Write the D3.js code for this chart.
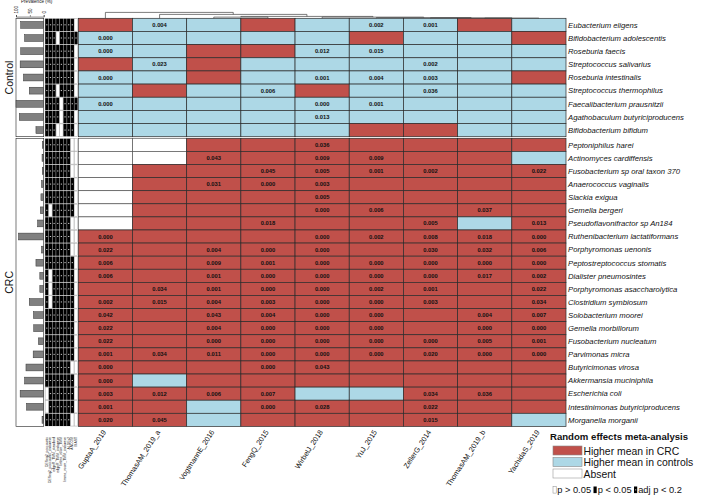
<!DOCTYPE html>
<html>
<head>
<meta charset="utf-8">
<script src="https://cdn.jsdelivr.net/npm/d3@7/dist/d3.min.js"></script>
<style>
body { margin: 0; background: #fff; }
svg { display: block; font-family: "Liberation Sans", Arial, sans-serif; }
</style>
</head>
<body>
<div id="chart-area"></div>
<script>
// studies (columns)
var studies = ["GuptaA_2019", "ThomasAM_2019_a", "VogtmannE_2016", "FengQ_2015", "WirbelJ_2018",
  "YuJ_2015", "ZellerG_2014", "ThomasAM_2019_b", "YachidaS_2019"]

var methods = ["DESeq2_poscounts", "DESeq2_poscounts_zinbwave", "edgeR_TMM_standard", "edgeR_TMM_zinbwave",
  "limma_voom_TMM", "limma_voom_TMM_zinbwave", "ALDEx2", "ANCOM", "MAST"]

var controlTaxa = ["Eubacterium eligens", "Bifidobacterium adolescentis", "Roseburia faecis", "Streptococcus salivarius",
  "Roseburia intestinalis", "Streptococcus thermophilus", "Faecalibacterium prausnitzii",
  "Agathobaculum butyriciproducens", "Bifidobacterium bifidum"]

var crcTaxa = ["Peptoniphilus harei", "Actinomyces cardiffensis", "Fusobacterium sp oral taxon 370",
  "Anaerococcus vaginalis", "Slackia exigua", "Gemella bergeri", "Pseudoflavonifractor sp An184",
  "Ruthenibacterium lactatiformans", "Porphyromonas uenonis", "Peptostreptococcus stomatis",
  "Dialister pneumosintes", "Porphyromonas asaccharolytica", "Clostridium symbiosum", "Solobacterium moorei",
  "Gemella morbillorum", "Fusobacterium nucleatum", "Parvimonas micra", "Butyricimonas virosa",
  "Akkermansia muciniphila", "Escherichia coli", "Intestinimonas butyriciproducens", "Morganella morganii"]

// R = higher mean in CRC, B = higher mean in controls, A = absent
var controlDir = ["RBBRBBBRB", "BBBBBRBBR", "BBRRBBBBB", "RBRBBBBBB", "BBRBBBBBR",
  "BRBBRBBBB", "BBBBBBBBB", "BBBBBBBBB", "BBBBBRRBB"]

var crcDir = ["AARRRRRRR", "AARRRRRRB", "ARRRRRRRR", "ARRRRRRRR", "ARRRRRRRR", "ARRRRRRRR", "ARRRRRRBR",
  "RRRRRRRRR", "RRRRRRRRR", "RRRRRRRRR", "RRRRRRRRR", "RRRRRRRRR", "RRRRRRRRR", "RRRRRRRRR",
  "RRRRRRRRR", "RRRRRRRRR", "RRRRRRRRR", "RRRRRRRRR", "RBRRRRRRR", "RRRRBBRRR", "RRBRRRRRR", "RRBRRRRRB"]

// p-values printed in cells
var controlP = [
  ["", "0.004", "", "", "", "0.002", "0.001", "", ""],
  ["0.000", "", "", "", "", "", "", "", ""],
  ["0.000", "", "", "", "0.012", "0.015", "", "", ""],
  ["", "0.023", "", "", "", "", "0.002", "", ""],
  ["0.000", "", "", "", "0.001", "0.004", "0.003", "", ""],
  ["", "", "", "0.006", "", "", "0.036", "", ""],
  ["0.000", "", "", "", "0.000", "0.001", "", "", ""],
  ["", "", "", "", "0.013", "", "", "", ""],
  ["", "", "", "", "", "", "", "", ""]
]

var crcP = [
  ["", "", "", "", "0.036", "", "", "", ""],
  ["", "", "0.043", "", "0.009", "0.009", "", "", ""],
  ["", "", "", "0.045", "0.005", "0.001", "0.002", "", "0.022"],
  ["", "", "0.031", "0.000", "0.003", "", "", "", ""],
  ["", "", "", "", "0.005", "", "", "", ""],
  ["", "", "", "", "0.000", "0.006", "", "0.037", ""],
  ["", "", "", "0.018", "", "", "0.005", "", "0.013"],
  ["0.000", "", "", "", "0.000", "0.002", "0.008", "0.018", "0.000"],
  ["0.022", "", "0.004", "0.000", "0.000", "", "0.030", "0.032", "0.006"],
  ["0.006", "", "0.009", "0.001", "0.000", "0.000", "0.000", "0.000", "0.000"],
  ["0.006", "", "0.001", "0.000", "0.000", "0.000", "0.000", "0.017", "0.002"],
  ["", "0.034", "0.001", "0.000", "0.000", "0.002", "0.001", "", "0.022"],
  ["0.002", "0.015", "0.004", "0.003", "0.000", "0.000", "0.003", "", "0.034"],
  ["0.042", "", "0.043", "0.004", "0.000", "0.000", "", "0.004", "0.007"],
  ["0.022", "", "0.004", "0.000", "0.000", "0.000", "", "0.000", "0.000"],
  ["0.022", "", "0.000", "0.000", "0.000", "0.000", "0.000", "0.005", "0.001"],
  ["0.001", "0.034", "0.011", "0.000", "0.000", "0.000", "0.020", "0.000", "0.000"],
  ["0.000", "", "", "0.000", "0.043", "", "", "", ""],
  ["0.000", "", "", "", "", "", "", "", ""],
  ["0.003", "0.012", "0.006", "0.007", "", "", "0.034", "0.036", ""],
  ["0.001", "", "", "0.000", "0.028", "", "0.022", "", ""],
  ["0.020", "0.045", "", "", "", "", "0.015", "", ""]
]

// prevalence (%)
var controlPrev = [83, 69, 83, 85, 73, 52, 100, 88, 28]
var crcPrev = [5, 6, 5, 8, 10, 12, 22, 91, 8, 28, 14, 14, 52, 37, 36, 19, 38, 64, 69, 85, 62, 6]

// method results: a = adj p < 0.2, p = p < 0.05, n = p > 0.05
var controlMeth = ["aaaaaaaan", "aaanaaaaa", "aaaaaaaan", "aaaaaaaan", "aaaaaaaan",
  "aaanaaaan", "aaaanaaaa", "aaaanaaan", "aaannaaan"]
var crcMeth = ["aaaaaaann", "aaaaaaann", "aaaaaaann", "aaaaaaaan", "aaaaaaaan", "anaaaaaan", "aaaaaaann",
  "aaaaaaann", "aaaaaaann", "aaaaaaaan", "anaaaaaan", "anaaaaaan", "anaaaaaan", "aaaaaaaan",
  "aaaaaaaan", "aaaaaaaan", "aaaaaaaan", "aaaaaaann", "aaaaaaaan", "naaaaaaan", "naaaaaaan", "aaaaaaann"]

var prevTicks = [100, 50, 0]

// column dendrogram
var studyTree = ["GuptaA_2019", ["ThomasAM_2019_a", [["VogtmannE_2016", "FengQ_2015"],
  ["WirbelJ_2018", ["YuJ_2015", ["ZellerG_2014", ["ThomasAM_2019_b", "YachidaS_2019"]]]]]]]
var treeHeights = [1, 0.66, 0.32, 0.2, 0.13, 0.08, 0.04]

var colors = {R: "#c0504a", B: "#add8e6", A: "#ffffff"}

var width = 706, height = 500
var svg = d3.select("#chart-area").append("svg")
  .attr("width", width).attr("height", height)

var x = d3.scaleBand().domain(studies).range([78.3, 566])
var yCtrl = d3.scaleBand().domain(controlTaxa).range([18.3, 136.7])
var yCrc = d3.scaleBand().domain(crcTaxa).range([138.3, 426.4])
var xm = d3.scaleBand().domain(methods).range([45.2, 77.6]).paddingInner(0.12)
var xp = d3.scaleLinear().domain([0, 100]).range([43.7, 16])

function drawBlock(taxa, y, dir, pv, prev, meth) {
  var g = svg.append("g")
  var cells = []
  taxa.forEach((t, i) => {
    studies.forEach((s, j) => {
      cells.push({taxon: t, study: s, d: dir[i][j], p: pv[i][j]})
    })
  })
  g.selectAll("rect.cell").data(cells).enter().append("rect")
    .attr("class", "cell")
    .attr("x", d => x(d.study))
    .attr("y", d => y(d.taxon))
    .attr("width", x.bandwidth())
    .attr("height", y.bandwidth())
    .attr("fill", d => colors[d.d])
    .attr("stroke", d => d.d == "A" ? "#555" : "#2b2b2b")
    .attr("stroke-width", 0.7)
  g.selectAll("text.pv").data(cells.filter(d => d.p != "")).enter().append("text")
    .attr("class", "pv")
    .attr("x", d => x(d.study) + x.bandwidth() / 2)
    .attr("y", d => y(d.taxon) + y.bandwidth() / 2 + 2)
    .attr("text-anchor", "middle")
    .attr("font-size", "5.8px")
    .attr("font-weight", "bold")
    .attr("fill", "#111")
    .text(d => d.p)

  // species names
  g.selectAll("text.sp").data(taxa).enter().append("text")
    .attr("class", "sp")
    .attr("x", 568)
    .attr("y", d => y(d) + y.bandwidth() / 2 + 2.8)
    .attr("font-size", "7.7px")
    .attr("font-style", "italic")
    .attr("fill", "#111")
    .text(d => d)

  // prevalence bars
  var r = y.range()
  g.append("rect")
    .attr("x", xp(100)).attr("y", r[0])
    .attr("width", xp(0) - xp(100)).attr("height", r[1] - r[0])
    .attr("fill", "none").attr("stroke", "#222").attr("stroke-width", 0.6)
  g.selectAll("rect.prev").data(taxa).enter().append("rect")
    .attr("class", "prev")
    .attr("x", (d, i) => xp(prev[i]))
    .attr("y", d => y(d) + y.bandwidth() * 0.24)
    .attr("width", (d, i) => xp(0) - xp(prev[i]))
    .attr("height", y.bandwidth() * 0.52)
    .attr("fill", "#808080").attr("stroke", "#333").attr("stroke-width", 0.5)

  // method matrix
  var mcells = []
  taxa.forEach((t, i) => {
    methods.forEach((m, j) => mcells.push({taxon: t, method: m, v: meth[i][j]}))
  })
  g.append("rect")
    .attr("x", 44.6).attr("y", r[0])
    .attr("width", 33.4).attr("height", r[1] - r[0])
    .attr("fill", "#d8d8d8")
  g.selectAll("rect.meth").data(mcells).enter().append("rect")
    .attr("class", "meth")
    .attr("x", d => xm(d.method))
    .attr("y", d => y(d.taxon) + 0.4)
    .attr("width", xm.bandwidth())
    .attr("height", y.bandwidth() - 0.8)
    .attr("fill", d => d.v == "n" ? "#fff" : "#000")
    .attr("stroke", d => d.v == "n" ? "#aaa" : "none")
    .attr("stroke-width", 0.4)
  g.selectAll("rect.adj").data(mcells.filter(d => d.v == "a")).enter().append("rect")
    .attr("class", "adj")
    .attr("x", d => xm(d.method) + xm.bandwidth() * 0.3)
    .attr("y", d => y(d.taxon) + y.bandwidth() / 2 - 0.5)
    .attr("width", xm.bandwidth() * 0.4)
    .attr("height", 0.9)
    .attr("fill", "#ddd")
}

drawBlock(controlTaxa, yCtrl, controlDir, controlP, controlPrev, controlMeth)
drawBlock(crcTaxa, yCrc, crcDir, crcP, crcPrev, crcMeth)

// group labels
svg.append("text")
  .attr("transform", `translate(13, ${(yCtrl.range()[0] + yCtrl.range()[1]) / 2}) rotate(-90)`)
  .attr("text-anchor", "middle").attr("font-size", "10.5px").attr("fill", "#111")
  .text("Control")
svg.append("text")
  .attr("transform", `translate(13, ${(yCrc.range()[0] + yCrc.range()[1]) / 2}) rotate(-90)`)
  .attr("text-anchor", "middle").attr("font-size", "10.5px").attr("fill", "#111")
  .text("CRC")

// prevalence axis
var prevAxis = d3.axisTop(xp).tickValues(prevTicks).tickSize(1.5).tickPadding(1)
var ag = svg.append("g").attr("transform", "translate(0, 16.6)").call(prevAxis)
ag.select(".domain").attr("stroke-width", 0.5)
ag.selectAll(".tick line").attr("stroke-width", 0.5)
ag.selectAll(".tick text")
  .attr("font-size", "4.6px")
  .attr("font-family", "Liberation Sans, Arial, sans-serif")
  .attr("transform", "rotate(-90)")
  .attr("text-anchor", "start")
  .attr("x", 3).attr("y", 0).attr("dy", "0.35em")
svg.append("text").attr("x", 21).attr("y", 3.4)
  .attr("font-size", "4.6px").attr("fill", "#111").text("Prevalence (%)")

// study labels
svg.selectAll("text.study").data(studies).enter().append("text")
  .attr("class", "study")
  .attr("transform", d => `translate(${x(d) + x.bandwidth() / 2 + 1}, 432) rotate(-57)`)
  .attr("text-anchor", "end")
  .attr("font-size", "7.3px")
  .attr("fill", "#111")
  .text(d => d)

// method labels
svg.selectAll("text.method").data(methods).enter().append("text")
  .attr("class", "method")
  .attr("transform", d => `translate(${xm(d) + xm.bandwidth() / 2 + 1}, 437) rotate(-90)`)
  .attr("text-anchor", "end")
  .attr("font-size", "3.4px")
  .attr("fill", "#222")
  .text(d => d)

// dendrogram
var dendY = d3.scaleLinear().domain([0, 1]).range([18.3, 12.4])
var dg = svg.append("g").attr("fill", "none").attr("stroke", "#444").attr("stroke-width", 0.7)
function layoutTree(node, depth) {
  if (typeof node == "string") return {x: x(node) + x.bandwidth() / 2, y: dendY(0)}
  var kids = node.map(c => layoutTree(c, depth + 1))
  var yy = dendY(treeHeights[depth])
  dg.append("path")
    .attr("d", `M${kids[0].x},${kids[0].y}V${yy}H${kids[1].x}V${kids[1].y}`)
  return {x: d3.mean(kids, k => k.x), y: yy}
}
layoutTree(studyTree, 0)

// legend
var lg = svg.append("g").attr("transform", "translate(550, 0)")
lg.append("text").attr("x", 0).attr("y", 440)
  .attr("font-size", "9.6px").attr("font-weight", "bold").attr("fill", "#111")
  .text("Random effects meta-analysis")
var legendItems = [["R", "Higher mean in CRC"], ["B", "Higher mean in controls"], ["A", "Absent"]]
lg.selectAll("rect.key").data(legendItems).enter().append("rect")
  .attr("class", "key")
  .attr("x", 3).attr("y", (d, i) => 446 + i * 11.5)
  .attr("width", 29).attr("height", 9)
  .attr("fill", d => colors[d[0]])
  .attr("stroke", d => d[0] == "A" ? "#999" : "#888").attr("stroke-width", 0.6)
lg.selectAll("text.key").data(legendItems).enter().append("text")
  .attr("class", "key")
  .attr("x", 33.5).attr("y", (d, i) => 454.5 + i * 11.5)
  .attr("font-size", "10.4px").attr("fill", "#111")
  .text(d => d[1])

var sigItems = [["n", "p > 0.05", 3], ["p", "p < 0.05", 43.5], ["a", "adj p < 0.2", 84]]
sigItems.forEach(s => {
  lg.append("rect").attr("x", s[2]).attr("y", 486.5).attr("width", 3.2).attr("height", 6.6)
    .attr("fill", s[0] == "n" ? "#fff" : "#000").attr("stroke", s[0] == "n" ? "#888" : "none")
    .attr("stroke-width", 0.5)
  if (s[0] == "a") {
    lg.append("rect").attr("x", s[2] + 1.1).attr("y", 489.4).attr("width", 1.1).attr("height", 0.9).attr("fill", "#ddd")
  }
  lg.append("text").attr("x", s[2] + 4.2).attr("y", 493.2)
    .attr("font-size", "9.3px").attr("fill", "#111").text(s[1])
})
</script>
</body>
</html>
